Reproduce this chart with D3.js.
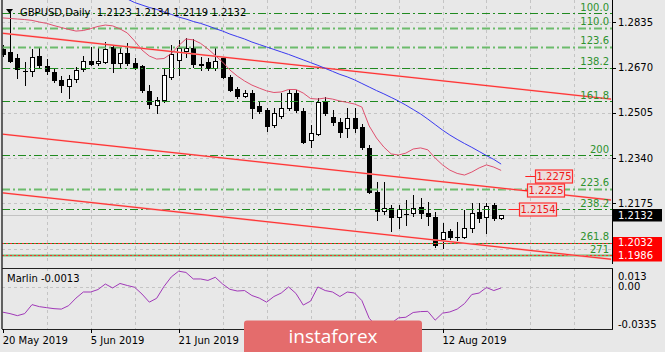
<!DOCTYPE html>
<html>

<head>
  <meta charset="utf-8">
  <title>GBPUSD Daily</title>
  <script src="https://cdn.jsdelivr.net/npm/d3@7"></script>
  <style>
    body { margin: 0; background: #e8e8e8; }
    text { font-family: "DejaVu Sans", sans-serif; font-size: 10px; }
  </style>
</head>

<body>
  <svg width="665" height="352" id="mainsvg"></svg>
  <script>
    // ---- data ----
    const dateTickBars = [0, 12, 24, 60];
    const dateTickLabels = ['20 May 2019', '5 Jun 2019', '21 Jun 2019', '12 Aug 2019'];

    const opens = [1.2738, 1.2727, 1.2705, 1.2659, 1.2657, 1.2712, 1.2676, 1.2654, 1.2625, 1.2603,
      1.2628, 1.2665, 1.2694, 1.2687, 1.2690, 1.2745, 1.2687, 1.2723, 1.2687, 1.2676,
      1.2585, 1.2534, 1.2552, 1.2636, 1.2698, 1.2730, 1.2741, 1.2683, 1.2690, 1.2668,
      1.2705, 1.2636, 1.2592, 1.2566, 1.2577, 1.2530, 1.2515, 1.2461, 1.2493, 1.2523,
      1.2577, 1.2512, 1.2406, 1.2428, 1.2544, 1.2490, 1.2471, 1.2450, 1.2486, 1.2453,
      1.2377, 1.2216, 1.2147, 1.2158, 1.2125, 1.2137, 1.2140, 1.2162, 1.2140, 1.2125,
      1.2045, 1.2074, 1.2053, 1.2052, 1.2085, 1.2143, 1.2125, 1.2169, 1.2123];
    const highs = [1.2752, 1.2873, 1.2719, 1.2690, 1.2738, 1.2745, 1.2701, 1.2668, 1.2639, 1.2643,
      1.2672, 1.2712, 1.2745, 1.2745, 1.2763, 1.2752, 1.2745, 1.2760, 1.2705, 1.2679,
      1.2606, 1.2563, 1.2668, 1.2752, 1.2771, 1.2778, 1.2774, 1.2708, 1.2705, 1.2741,
      1.2708, 1.2643, 1.2599, 1.2588, 1.2588, 1.2544, 1.2523, 1.2523, 1.2577, 1.2588,
      1.2588, 1.2523, 1.2461, 1.2559, 1.2563, 1.2515, 1.2486, 1.2523, 1.2523, 1.2464,
      1.2388, 1.2253, 1.2253, 1.2169, 1.2169, 1.2187, 1.2205, 1.2194, 1.2180, 1.2143,
      1.2103, 1.2081, 1.2107, 1.2151, 1.2176, 1.2176, 1.2176, 1.2176, 1.2134];
    const lows = [1.2712, 1.2690, 1.2632, 1.2606, 1.2639, 1.2668, 1.2647, 1.2617, 1.2581, 1.2559,
      1.2617, 1.2657, 1.2679, 1.2679, 1.2687, 1.2654, 1.2672, 1.2679, 1.2665, 1.2581,
      1.2523, 1.2504, 1.2544, 1.2628, 1.2643, 1.2708, 1.2672, 1.2661, 1.2661, 1.2661,
      1.2632, 1.2585, 1.2559, 1.2563, 1.2486, 1.2504, 1.2439, 1.2453, 1.2486, 1.2515,
      1.2508, 1.2395, 1.2380, 1.2424, 1.2497, 1.2461, 1.2417, 1.2417, 1.2435, 1.2373,
      1.2213, 1.2114, 1.2136, 1.2074, 1.2085, 1.2096, 1.2129, 1.2121, 1.2096, 1.2016,
      1.2012, 1.2045, 1.2041, 1.2049, 1.2070, 1.2107, 1.2067, 1.2114, 1.2119];
    const closes = [1.2719, 1.2694, 1.2665, 1.2657, 1.2708, 1.2679, 1.2657, 1.2625, 1.2606, 1.2628,
      1.2661, 1.2694, 1.2683, 1.2694, 1.2738, 1.2687, 1.2723, 1.2687, 1.2672, 1.2588,
      1.2537, 1.2552, 1.2643, 1.2719, 1.2741, 1.2741, 1.2683, 1.2681, 1.2668, 1.2694,
      1.2636, 1.2588, 1.2566, 1.2577, 1.2523, 1.2512, 1.2457, 1.2504, 1.2523, 1.2577,
      1.2515, 1.2399, 1.2431, 1.2544, 1.2504, 1.2471, 1.2435, 1.2486, 1.2450, 1.2380,
      1.2216, 1.2147, 1.2158, 1.2125, 1.2154, 1.2135, 1.2158, 1.2140, 1.2129, 1.2023,
      1.2070, 1.2052, 1.2051, 1.2085, 1.2140, 1.2121, 1.2165, 1.2121, 1.2132];

    // fast (pink) and slow (blue) moving averages
    const maFast = [1.2851, 1.2849, 1.2847, 1.2845, 1.2842, 1.2836, 1.2831, 1.2823, 1.2816, 1.2809,
      1.2803, 1.2805, 1.2812, 1.2820, 1.2825, 1.2822, 1.2811, 1.2796, 1.2767, 1.2734,
      1.2712, 1.2701, 1.2703, 1.2721, 1.2750, 1.2774, 1.2771, 1.2758, 1.2738, 1.2714,
      1.2690, 1.2661, 1.2639, 1.2621, 1.2606, 1.2595, 1.2585, 1.2579, 1.2581, 1.2590,
      1.2590, 1.2577, 1.2557, 1.2555, 1.2559, 1.2555, 1.2548, 1.2543, 1.2537, 1.2526,
      1.2457, 1.2413, 1.2380, 1.2355, 1.2351, 1.2358, 1.2373, 1.2377, 1.2370, 1.2340,
      1.2315, 1.2296, 1.2284, 1.2278, 1.2289, 1.2304, 1.2315, 1.2307, 1.2295];
    const maSlow = [null, null, null, null, null, null, null, null, null, null,
      null, null, null, null, null, null, 1.2931, 1.2920, 1.2907, 1.2898,
      1.2889, 1.2882, 1.2873, 1.2864, 1.2854, 1.2847, 1.2838, 1.2831, 1.2822, 1.2812,
      1.2803, 1.2792, 1.2783, 1.2774, 1.2763, 1.2754, 1.2745, 1.2736, 1.2727, 1.2718,
      1.2708, 1.2698, 1.2688, 1.2678, 1.2667, 1.2656, 1.2645, 1.2636, 1.2625, 1.2612,
      1.2599, 1.2586, 1.2574, 1.2561, 1.2548, 1.2533, 1.2517, 1.2501, 1.2482, 1.2462,
      1.2442, 1.2424, 1.2408, 1.2393, 1.2379, 1.2364, 1.2349, 1.2335, 1.2318];

    const marlin = [-0.0228, -0.0241, -0.0259, -0.0241, -0.0161, -0.0179, -0.0188, -0.0197, -0.0201, -0.0170,
      -0.0103, -0.0049, -0.0049, -0.0027, 0.0022, -0.0013, 0.0027, 0.0009, -0.0007, -0.0067,
      -0.0139, -0.0105, 0.0000, 0.0085, 0.0136, 0.0125, 0.0067, 0.0067, 0.0054, 0.0082,
      0.0022, -0.0025, -0.0040, -0.0036, -0.0080, -0.0103, -0.0139, -0.0089, -0.0058, -0.0004,
      -0.0061, -0.0165, -0.0130, -0.0004, -0.0036, -0.0049, -0.0089, -0.0049, -0.0058, -0.0125,
      -0.0282, -0.0353, -0.0362, -0.0326, -0.0279, -0.0273, -0.0231, -0.0223, -0.0221, -0.0299,
      -0.0237, -0.0226, -0.0201, -0.0152, -0.0071, -0.0058, -0.0009, -0.0036, -0.0013];

    // channel trend lines: price at bar 0 and at bar 83
    const trendBars = [0, 83];
    const trendStart = [1.2795, 1.2427, 1.2213];
    const trendEnd = [1.2555, 1.2187, 1.1971];

    const fibLabels = ['100.0', '110.0', '123.6', '138.2', '161.8', '200', '223.6', '238.2', '261.8', '271'];
    const fibPrices = [1.2868, 1.2816, 1.2746, 1.2670, 1.2548, 1.2350, 1.2228, 1.2154, 1.2032, 1.1985];

    const markerPrices = [1.2275, 1.2225, 1.2154];
    const markerBars = [71.3, 70.9, 69.0];
    const markerBoxBars = [72.6, 71.5, 70.4];

    const hLinePrices = [1.2032, 1.1986];
    const gridPrices = [1.2835, 1.2670, 1.2505, 1.2340, 1.2175, 1.2010];
    const priceTicks = [1.2835, 1.2670, 1.2505, 1.2340, 1.2175];
    const marlinTicks = [0.013, 0.00, -0.0335];
    const marlinTickLabels = ['0.013', '0.00', '-0.0335'];

    // ---- layout ----
    const svg = d3.select('#mainsvg');
    const width = +svg.attr('width');
    const height = +svg.attr('height');
    const pane = { left: 2, right: 612, top: 0, bottom: 264 };
    const sub = { top: 268, bottom: 329 };
    const px = v => Math.round(v) + 0.5;

    const x = d3.scaleLinear().domain([0, 60]).range([2.7, 442.5]);
    const y = d3.scaleLinear().domain([1.2175, 1.2835]).range([203.3, 22.3]);
    const yi = d3.scaleLinear().domain([-0.0335, 0]).range([324.2, 286.5]);

    svg.append('rect').attr('width', width).attr('height', height).attr('fill', '#e8e8e8');

    const defs = svg.append('defs');
    defs.append('clipPath').attr('id', 'clipMain').append('rect')
      .attr('x', pane.left).attr('y', pane.top)
      .attr('width', pane.right - pane.left).attr('height', pane.bottom - pane.top);
    defs.append('clipPath').attr('id', 'clipSub').append('rect')
      .attr('x', pane.left).attr('y', sub.top)
      .attr('width', pane.right - pane.left).attr('height', sub.bottom - sub.top);

    const main = svg.append('g').attr('clip-path', 'url(#clipMain)');
    const ind = svg.append('g').attr('clip-path', 'url(#clipSub)');

    // grid
    const gridBars = d3.range(6, 84, 6);
    const gridColor = '#c4c4c4';
    [[main, pane.top, pane.bottom], [ind, sub.top, sub.bottom]].forEach(([grp, t, b]) => {
      grp.selectAll('.vgrid').data(gridBars).join('line')
        .attr('class', 'vgrid')
        .attr('x1', d => px(x(d))).attr('x2', d => px(x(d)))
        .attr('y1', t).attr('y2', b)
        .attr('stroke', gridColor).attr('stroke-dasharray', '3,3');
    });
    main.selectAll('.hgrid').data(gridPrices).join('line')
      .attr('class', 'hgrid')
      .attr('x1', pane.left).attr('x2', pane.right)
      .attr('y1', d => px(y(d))).attr('y2', d => px(y(d)))
      .attr('stroke', gridColor).attr('stroke-dasharray', '3,3');
    ind.append('line')
      .attr('x1', pane.left).attr('x2', pane.right)
      .attr('y1', px(yi(0))).attr('y2', px(yi(0)))
      .attr('stroke', gridColor).attr('stroke-dasharray', '3,3');

    // bid line
    const lastClose = closes[closes.length - 1];
    main.append('line')
      .attr('x1', pane.left).attr('x2', pane.right)
      .attr('y1', px(y(lastClose))).attr('y2', px(y(lastClose)))
      .attr('stroke', '#c2c2c2');

    // candles
    const candles = opens.map((o, i) => ({ i, o, h: highs[i], l: lows[i], c: closes[i] }));
    const cg = main.append('g');
    cg.selectAll('line').data(candles).join('line')
      .attr('x1', d => px(x(d.i))).attr('x2', d => px(x(d.i)))
      .attr('y1', d => Math.round(y(d.h))).attr('y2', d => Math.round(y(d.l)) + 1)
      .attr('stroke', '#000');
    cg.selectAll('rect').data(candles).join('rect')
      .attr('x', d => Math.round(x(d.i)) - 2 + 0.5)
      .attr('y', d => px(y(Math.max(d.o, d.c))))
      .attr('width', 4)
      .attr('height', d => Math.max(0.01, Math.round(y(Math.min(d.o, d.c))) - Math.round(y(Math.max(d.o, d.c)))))
      .attr('fill', d => d.c >= d.o ? '#fff' : '#000')
      .attr('stroke', '#000');

    // fibonacci expansion levels
    const lightLevels = ['110.0', '123.6', '223.6', '271'];
    main.selectAll('.fib').data(fibPrices).join('line')
      .attr('class', 'fib')
      .attr('x1', pane.left).attr('x2', pane.right)
      .attr('y1', d => px(y(d))).attr('y2', d => px(y(d)))
      .attr('stroke', (d, i) => lightLevels.includes(fibLabels[i]) ? '#6cbb6c' : '#1f8a1f')
      .attr('stroke-width', (d, i) => lightLevels.includes(fibLabels[i]) ? 1.8 : 1)
      .attr('stroke-dasharray', (d, i) => i >= 8 ? null : '8,3,2,3');

    // horizontal red levels
    main.selectAll('.hline').data(hLinePrices).join('line')
      .attr('class', 'hline')
      .attr('x1', pane.left).attr('x2', pane.right)
      .attr('y1', d => px(y(d))).attr('y2', d => px(y(d)))
      .attr('stroke', '#ff2a2a').attr('stroke-dasharray', '2,2');

    // channel
    trendStart.forEach((p0, k) => {
      main.append('line')
        .attr('x1', x(trendBars[0])).attr('x2', x(trendBars[1]))
        .attr('y1', y(p0)).attr('y2', y(trendEnd[k]))
        .attr('stroke', '#f7a0a0').attr('stroke-width', 1.8);
      main.append('line')
        .attr('x1', x(trendBars[0])).attr('x2', x(trendBars[1]))
        .attr('y1', y(p0)).attr('y2', y(trendEnd[k]))
        .attr('stroke', '#ff1010').attr('stroke-width', 0.8);
    });

    // moving averages
    const maLine = d3.line().defined(d => d != null).x((d, i) => x(i)).y(d => y(d));
    main.append('path').attr('d', maLine(maSlow))
      .attr('fill', 'none').attr('stroke', '#3a3af0').attr('stroke-width', 1);
    main.append('path').attr('d', maLine(maFast))
      .attr('fill', 'none').attr('stroke', '#e0506e').attr('stroke-width', 1);

    // price markers
    markerPrices.forEach((p, k) => {
      const yy = px(y(p));
      const bx = Math.round(x(markerBoxBars[k])) + 0.5;
      svg.append('line')
        .attr('x1', x(markerBars[k])).attr('x2', bx)
        .attr('y1', yy).attr('y2', yy)
        .attr('stroke', '#ff2020');
      svg.append('rect')
        .attr('x', bx).attr('y', yy - 6.5)
        .attr('width', 37).attr('height', 13)
        .attr('fill', '#ecdcdc').attr('stroke', '#ff3030').attr('stroke-width', 1.2);
      svg.append('text')
        .attr('x', bx + 18.5).attr('y', yy).attr('dy', '0.36em')
        .attr('text-anchor', 'middle').attr('fill', '#f01818')
        .text(p.toFixed(4));
    });

    // fib labels
    svg.selectAll('.fibtxt').data(fibPrices).join('text')
      .attr('class', 'fibtxt')
      .attr('x', 609).attr('y', d => y(d) - 2.5)
      .attr('text-anchor', 'end').attr('fill', '#2e922e')
      .text((d, i) => fibLabels[i]);

    // frame
    svg.append('line').attr('x1', 2).attr('x2', 2).attr('y1', 0).attr('y2', sub.bottom)
      .attr('stroke', '#333').attr('stroke-width', 1.5);
    svg.append('line').attr('x1', px(pane.right)).attr('x2', px(pane.right))
      .attr('y1', 0).attr('y2', pane.bottom).attr('stroke', '#000');
    svg.append('line').attr('x1', px(pane.right)).attr('x2', px(pane.right))
      .attr('y1', sub.top).attr('y2', sub.bottom).attr('stroke', '#000');
    svg.append('line').attr('x1', 2).attr('x2', pane.right + 1)
      .attr('y1', px(sub.top)).attr('y2', px(sub.top)).attr('stroke', '#222');
    svg.append('line').attr('x1', 2).attr('x2', pane.right + 1)
      .attr('y1', px(sub.bottom)).attr('y2', px(sub.bottom)).attr('stroke', '#222');

    // price axis
    const axisG = svg.append('g');
    axisG.selectAll('line').data(gridPrices).join('line')
      .attr('x1', pane.right).attr('x2', pane.right + 4)
      .attr('y1', d => px(y(d))).attr('y2', d => px(y(d)))
      .attr('stroke', '#000');
    axisG.selectAll('text').data(priceTicks).join('text')
      .attr('x', 618).attr('y', d => y(d)).attr('dy', '0.36em')
      .attr('fill', '#000')
      .text(d => d.toFixed(4));

    // axis price boxes
    const axisBoxes = [[lastClose, '#000'], [hLinePrices[0], '#ff0000'], [hLinePrices[1], '#ff0000']];
    axisBoxes.forEach(([p, fill]) => {
      svg.append('rect')
        .attr('x', 613).attr('y', Math.round(y(p)) - 6)
        .attr('width', 49).attr('height', 12.5)
        .attr('fill', fill);
      svg.append('text')
        .attr('x', 618).attr('y', y(p)).attr('dy', '0.36em')
        .attr('fill', '#fff')
        .text(p.toFixed(4));
    });

    // indicator pane
    ind.append('path')
      .attr('d', d3.line().x((d, i) => x(i)).y(d => yi(d))(marlin))
      .attr('fill', 'none').attr('stroke', '#a038b8').attr('stroke-width', 1);
    svg.selectAll('.itick').data(marlinTicks).join('text')
      .attr('class', 'itick')
      .attr('x', 618).attr('y', (d, i) => yi(d) + (i === 0 ? 5 : 0)).attr('dy', '0.36em')
      .attr('fill', '#000')
      .text((d, i) => marlinTickLabels[i]);
    svg.append('text')
      .attr('x', 7).attr('y', 282)
      .attr('fill', '#000')
      .text(`Marlin ${marlin[marlin.length - 1].toFixed(4)}`);

    // date axis
    svg.selectAll('.dtick').data(dateTickBars).join('line')
      .attr('class', 'dtick')
      .attr('x1', d => px(x(d))).attr('x2', d => px(x(d)))
      .attr('y1', sub.bottom).attr('y2', sub.bottom + 4)
      .attr('stroke', '#000');
    svg.selectAll('.dlabel').data(dateTickBars).join('text')
      .attr('class', 'dlabel')
      .attr('x', d => x(d)).attr('y', 344)
      .attr('fill', '#000')
      .text((d, i) => dateTickLabels[i]);

    // title
    const last = opens.length - 1;
    svg.append('path').attr('d', 'M6,9 L13,9 L9.5,13.5 Z').attr('fill', '#000');
    svg.append('text')
      .attr('x', 20).attr('y', 16)
      .attr('fill', '#000').style('white-space', 'pre')
      .text(`GBPUSD,Daily  ${[opens[last], highs[last], lows[last], closes[last]].map(v => v.toFixed(4)).join(' ')}`);

    // watermark
    svg.append('rect')
      .attr('x', 244).attr('y', 320.5).attr('width', 178).attr('height', 40)
      .attr('rx', 3).attr('fill', '#e46c6c');
    svg.append('text')
      .attr('x', 333).attr('y', 342.5)
      .attr('text-anchor', 'middle').attr('fill', '#fff')
      .style('font-family', '"Open Sans", sans-serif').style('font-size', '19px')
      .text('instaforex');
  </script>
</body>

</html>
